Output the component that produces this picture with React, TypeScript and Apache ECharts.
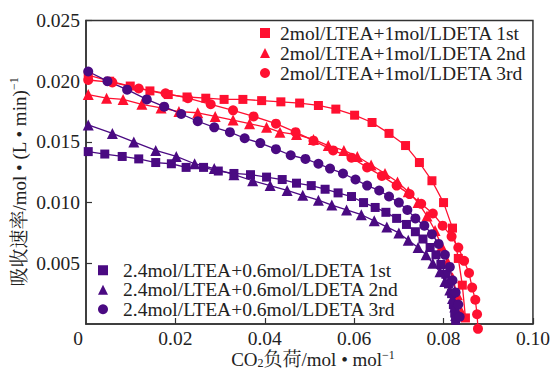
import React, { useEffect, useRef } from "react";
import * as echarts from "echarts";

// CO2 loading (mol/mol) and absorption rate (mol/(L·min)) for each run
const NAME_A1 = "2mol/LTEA+1mol/LDETA 1st";
const NAME_A2 = "2mol/LTEA+1mol/LDETA 2nd";
const NAME_A3 = "2mol/LTEA+1mol/LDETA 3rd";
const NAME_B1 = "2.4mol/LTEA+0.6mol/LDETA 1st";
const NAME_B2 = "2.4mol/LTEA+0.6mol/LDETA 2nd";
const NAME_B3 = "2.4mol/LTEA+0.6mol/LDETA 3rd";

const xA1 = [0.0005, 0.0053, 0.0099, 0.0143, 0.0184, 0.0226, 0.0268, 0.0309, 0.0351, 0.0393, 0.0436, 0.0478, 0.052, 0.0559, 0.0601, 0.064, 0.0678, 0.0715, 0.0746, 0.0774, 0.08, 0.082, 0.0833, 0.0842, 0.0849];
const yA1 = [0.0205, 0.02, 0.0196, 0.0192, 0.0189, 0.0187, 0.0186, 0.0185, 0.0185, 0.0184, 0.0183, 0.0182, 0.018, 0.0177, 0.0172, 0.0166, 0.0157, 0.0147, 0.0133, 0.0118, 0.01, 0.0079, 0.0054, 0.0032, 0.0005];

const xA2 = [0.0005, 0.0046, 0.0083, 0.0125, 0.0168, 0.0208, 0.025, 0.0289, 0.0329, 0.0366, 0.0404, 0.0434, 0.0471, 0.0509, 0.0542, 0.0577, 0.0607, 0.0638, 0.0669, 0.0697, 0.0721, 0.0743, 0.0763, 0.0781, 0.0796, 0.0809, 0.082, 0.0831, 0.084];
const yA2 = [0.0189, 0.0186, 0.0185, 0.0181, 0.0178, 0.0175, 0.0174, 0.0171, 0.0168, 0.0165, 0.0162, 0.0158, 0.0156, 0.0152, 0.0147, 0.0143, 0.0138, 0.0131, 0.0124, 0.0117, 0.0109, 0.01, 0.0089, 0.0077, 0.0064, 0.0051, 0.0038, 0.0024, 0.001];

const xA3 = [0.0005, 0.0059, 0.0118, 0.0178, 0.0228, 0.0279, 0.0329, 0.0375, 0.0425, 0.0469, 0.0509, 0.0553, 0.0594, 0.0629, 0.0662, 0.0695, 0.0724, 0.075, 0.0776, 0.0798, 0.0818, 0.0833, 0.0846, 0.0857, 0.0864, 0.0871, 0.0875, 0.0877];
const yA3 = [0.0201, 0.0199, 0.0194, 0.019, 0.0186, 0.0181, 0.0176, 0.0171, 0.0165, 0.0158, 0.0151, 0.0143, 0.0137, 0.0129, 0.0122, 0.0114, 0.0107, 0.0099, 0.0091, 0.0081, 0.0072, 0.0063, 0.0052, 0.0042, 0.003, 0.002, 0.0008, -0.0004];

const xB1 = [0.0005, 0.0042, 0.0081, 0.0118, 0.0156, 0.0191, 0.0224, 0.0263, 0.0296, 0.0331, 0.0368, 0.0404, 0.0439, 0.0471, 0.0504, 0.0535, 0.0564, 0.0594, 0.0621, 0.0647, 0.0671, 0.0695, 0.0717, 0.0737, 0.0754, 0.077, 0.0783, 0.0794, 0.0805, 0.0811, 0.0818, 0.0822, 0.0825, 0.0827];
const yB1 = [0.0142, 0.014, 0.0138, 0.0136, 0.0133, 0.0132, 0.0129, 0.0129, 0.0126, 0.0124, 0.0123, 0.0121, 0.0119, 0.0116, 0.0114, 0.0111, 0.0108, 0.0105, 0.01, 0.0096, 0.0092, 0.0087, 0.0082, 0.0076, 0.007, 0.0063, 0.0057, 0.0049, 0.0041, 0.0033, 0.0025, 0.0016, 0.0009, 0.0003];

const xB2 = [0.0005, 0.0059, 0.0107, 0.0156, 0.0202, 0.0243, 0.0287, 0.0331, 0.0373, 0.0412, 0.045, 0.0485, 0.052, 0.055, 0.0583, 0.0616, 0.0645, 0.0673, 0.07, 0.0721, 0.0743, 0.0761, 0.0776, 0.0792, 0.0803, 0.0814, 0.082, 0.0825, 0.0827];
const yB2 = [0.0164, 0.0157, 0.015, 0.0143, 0.0138, 0.0132, 0.0128, 0.0123, 0.0118, 0.0114, 0.011, 0.0106, 0.0102, 0.0098, 0.0094, 0.009, 0.0085, 0.008, 0.0075, 0.0069, 0.0063, 0.0057, 0.005, 0.0043, 0.0035, 0.0028, 0.0021, 0.0014, 0.0007];

const xB3 = [0.0005, 0.0048, 0.0092, 0.0136, 0.0175, 0.0213, 0.025, 0.0287, 0.0322, 0.0355, 0.039, 0.0425, 0.0458, 0.0491, 0.052, 0.0546, 0.0575, 0.0603, 0.0629, 0.0656, 0.0678, 0.07, 0.0719, 0.0737, 0.0757, 0.0774, 0.0789, 0.0803, 0.0814, 0.082, 0.0827, 0.0833, 0.0836];
const yB3 = [0.0208, 0.02, 0.0193, 0.0185, 0.0179, 0.0173, 0.0167, 0.0162, 0.0158, 0.0153, 0.0149, 0.0144, 0.0139, 0.0136, 0.0132, 0.0128, 0.0124, 0.0119, 0.0114, 0.011, 0.0105, 0.01, 0.0094, 0.0087, 0.0081, 0.0074, 0.0066, 0.0057, 0.0047, 0.0036, 0.0026, 0.0016, 0.0006];

const X_AXIS_TITLE = ["CO", "2", "负荷/mol • mol", "−1"];
const Y_AXIS_TITLE = ["吸收速率/mol • (L • min)", "−1"];

const RED = "#ff1030";
const PURPLE = "#4a0a82";
const INK = "#222222";
const FONT = "'Liberation Serif', 'Noto Serif CJK SC', 'Noto Sans CJK SC', serif";

const zip = (xs: number[], ys: number[]) => xs.map((x, i) => [x, ys[i]]);

function makeSeries(name: string, xs: number[], ys: number[], color: string, symbol: string, size: number) {
  return {
    type: "line",
    name,
    data: zip(xs, ys),
    symbol,
    symbolSize: size,
    showAllSymbol: true,
    clip: false,
    lineStyle: { color, width: 1.3 },
    itemStyle: { color, borderWidth: 0 },
  };
}

export default function App() {
  const ref = useRef<HTMLDivElement>(null);

  useEffect(() => {
    if (!ref.current) return;
    const chart = echarts.init(ref.current, null, { renderer: "svg" });

    const legendText = (pad: number, lh: number) => ({
      fontFamily: FONT,
      fontSize: 19.5,
      color: INK,
      lineHeight: lh,
      padding: [0, 0, 0, pad],
    });

    chart.setOption({
      animation: false,
      backgroundColor: "#ffffff",
      grid: {
        left: 86,
        right: 11,
        top: 20.5,
        bottom: 45,
        show: true,
        borderColor: "#333",
        borderWidth: 1.5,
        backgroundColor: "transparent",
      },
      xAxis: {
        type: "value",
        min: 0,
        max: 0.1,
        interval: 0.02,
        splitLine: { show: false },
        axisLine: { lineStyle: { color: "#333", width: 1.5 } },
        axisTick: { inside: true, length: 6, lineStyle: { color: "#333", width: 1.2 } },
        axisLabel: {
          showMinLabel: false,
          margin: 5,
          fontFamily: FONT,
          fontSize: 19.5,
          color: INK,
          formatter: (v: number) => v.toFixed(2),
        },
      },
      yAxis: {
        type: "value",
        min: 0,
        max: 0.025,
        interval: 0.005,
        splitLine: { show: false },
        axisLine: { lineStyle: { color: "#333", width: 1.5 } },
        axisTick: { inside: true, length: 6, lineStyle: { color: "#333", width: 1.2 } },
        axisLabel: {
          showMinLabel: false,
          margin: 6,
          fontFamily: FONT,
          fontSize: 19.5,
          color: INK,
          formatter: (v: number) => v.toFixed(3),
        },
      },
      legend: [
        {
          data: [
            { name: NAME_A1, icon: "rect" },
            { name: NAME_A2, icon: "triangle" },
            { name: NAME_A3, icon: "circle" },
          ],
          orient: "vertical",
          left: 260,
          top: 23,
          padding: 0,
          itemGap: 0,
          itemWidth: 10,
          itemHeight: 10,
          selectedMode: false,
          textStyle: legendText(5, 20),
        },
        {
          data: [
            { name: NAME_B1, icon: "rect" },
            { name: NAME_B2, icon: "triangle" },
            { name: NAME_B3, icon: "circle" },
          ],
          orient: "vertical",
          left: 98,
          top: 260.5,
          padding: 0,
          itemGap: 0,
          itemWidth: 10,
          itemHeight: 10,
          selectedMode: false,
          textStyle: legendText(10, 19),
        },
      ],
      graphic: [
        {
          type: "text",
          x: 78,
          y: 338,
          style: {
            text: "0",
            fontFamily: FONT,
            fontSize: 19.5,
            fill: INK,
            align: "center",
            verticalAlign: "middle",
          },
        },
        {
          type: "text",
          x: 313,
          y: 359,
          style: {
            text: `{m|${X_AXIS_TITLE[0]}}{sub|${X_AXIS_TITLE[1]}}{m|${X_AXIS_TITLE[2]}}{sup|${X_AXIS_TITLE[3]}}`,
            align: "center",
            verticalAlign: "middle",
            fill: INK,
            rich: {
              m: { fontFamily: FONT, fontSize: 19, lineHeight: 20, fill: INK },
              sub: { fontFamily: FONT, fontSize: 12, lineHeight: 20, verticalAlign: "bottom", fill: INK },
              sup: { fontFamily: FONT, fontSize: 12, lineHeight: 20, verticalAlign: "top", fill: INK },
            },
          },
        },
        {
          type: "text",
          x: 19,
          y: 182,
          rotation: Math.PI / 2,
          style: {
            text: `{m|${Y_AXIS_TITLE[0]}}{sup|${Y_AXIS_TITLE[1]}}`,
            align: "center",
            verticalAlign: "middle",
            fill: INK,
            rich: {
              m: { fontFamily: FONT, fontSize: 19, lineHeight: 22, fill: INK },
              sup: { fontFamily: FONT, fontSize: 12, lineHeight: 22, verticalAlign: "top", fill: INK },
            },
          },
        },
      ],
      series: [
        makeSeries(NAME_A1, xA1, yA1, RED, "rect", 9),
        makeSeries(NAME_A2, xA2, yA2, RED, "triangle", 11),
        makeSeries(NAME_A3, xA3, yA3, RED, "circle", 10),
        makeSeries(NAME_B1, xB1, yB1, PURPLE, "rect", 9),
        makeSeries(NAME_B2, xB2, yB2, PURPLE, "triangle", 11),
        makeSeries(NAME_B3, xB3, yB3, PURPLE, "circle", 10),
      ],
    });

    return () => chart.dispose();
  }, []);

  return (
    <div
      ref={ref}
      style={{ position: "fixed", left: 0, top: 0, width: 553, height: 369, background: "#fff" }}
    />
  );
}
